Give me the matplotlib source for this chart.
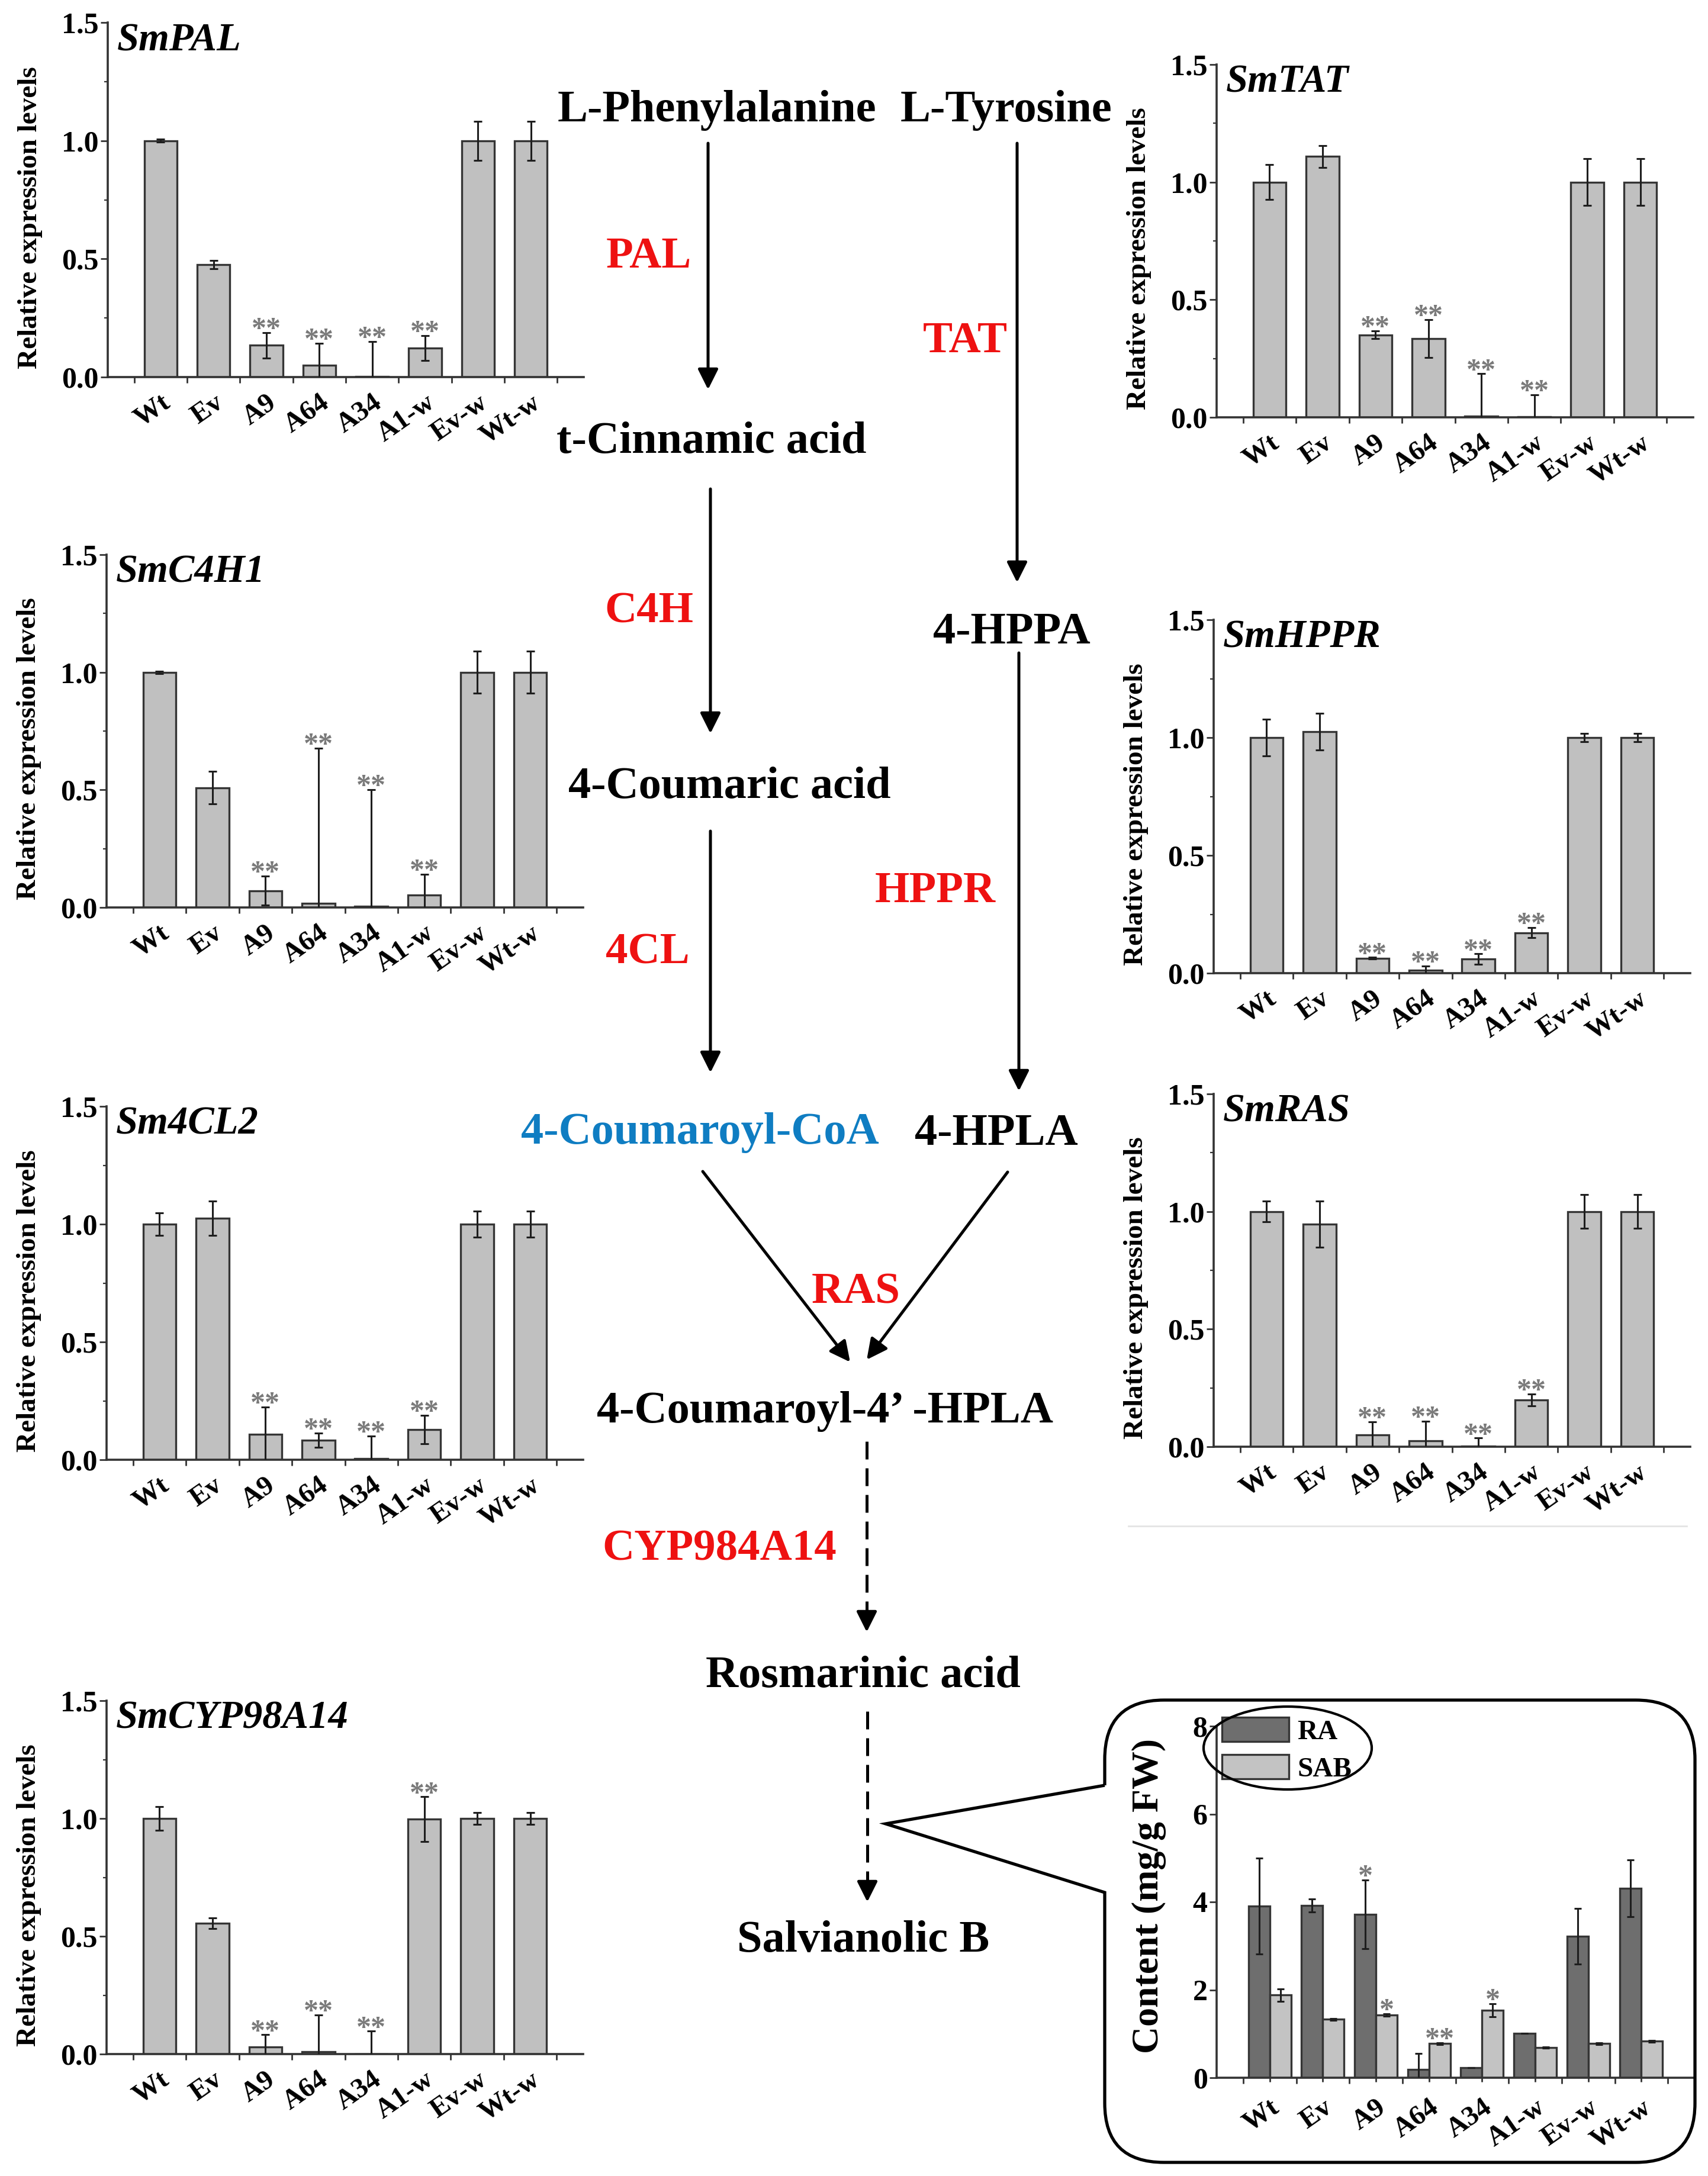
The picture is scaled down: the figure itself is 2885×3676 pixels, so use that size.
import matplotlib
matplotlib.use("Agg")
import matplotlib.pyplot as plt
import numpy as np
from matplotlib.path import Path
from matplotlib.patches import PathPatch, Ellipse

# ---- data ----
genotypes = ['Wt', 'Ev', 'A9', 'A64', 'A34', 'A1-w', 'Ev-w', 'Wt-w']

pal_mean = [1.0, 0.476, 0.134, 0.051, 0.003, 0.122, 1.0, 1.0]
pal_err = [0.006, 0.018, 0.055, 0.092, 0.148, 0.053, 0.083, 0.083]

c4h_mean = [1.0, 0.509, 0.071, 0.018, 0.006, 0.052, 1.0, 1.0]
c4h_err = [0.005, 0.069, 0.062, 0.66, 0.495, 0.089, 0.089, 0.089]

cl_mean = [1.0, 1.025, 0.109, 0.084, 0.006, 0.129, 1.0, 1.0]
cl_err = [0.047, 0.072, 0.115, 0.03, 0.095, 0.06, 0.056, 0.056]

cyp_mean = [1.0, 0.555, 0.031, 0.011, 0.001, 0.997, 1.0, 1.0]
cyp_err = [0.051, 0.023, 0.051, 0.155, 0.096, 0.095, 0.025, 0.025]

tat_mean = [1.0, 1.109, 0.351, 0.335, 0.005, 0.003, 1.0, 1.0]
tat_err = [0.075, 0.046, 0.017, 0.08, 0.18, 0.093, 0.099, 0.099]

hppr_mean = [1.0, 1.025, 0.064, 0.013, 0.060, 0.172, 1.0, 1.0]
hppr_err = [0.077, 0.077, 0.003, 0.017, 0.022, 0.022, 0.018, 0.018]

ras_mean = [1.0, 0.946, 0.051, 0.026, 0.002, 0.199, 1.0, 1.0]
ras_err = [0.044, 0.098, 0.055, 0.082, 0.035, 0.026, 0.071, 0.071]

expr_marks = ['', '', '**', '**', '**', '**', '', '']

ra_content = [3.90, 3.92, 3.72, 0.19, 0.23, 1.01, 3.22, 4.31]
ra_err = [1.09, 0.15, 0.78, 0.36, 0.0, 0.0, 0.63, 0.64]
sab_content = [1.88, 1.33, 1.43, 0.78, 1.54, 0.69, 0.78, 0.83]
sab_err = [0.14, 0.02, 0.03, 0.02, 0.15, 0.01, 0.02, 0.02]
ra_marks = ['', '', '*', '', '', '', '', '']
sab_marks = ['', '', '*', '**', '*', '', '', '']

# ---- style ----
W, H = 2885, 3676
DPI = 100
plt.rcParams['font.family'] = ['Liberation Serif', 'DejaVu Serif']
plt.rcParams['font.weight'] = 'bold'

BAR_FILL = '#c0c0c0'
BAR_EDGE = '#353535'
AX_COL = '#333333'
STAR_COL = '#7a7a7a'
RED = '#ee1111'
BLUE = '#0f7dc2'

fig = plt.figure(figsize=(W / DPI, H / DPI), dpi=DPI)


def px_axes(left, top, right, bottom):
    return fig.add_axes([left / W, 1 - bottom / H, (right - left) / W, (bottom - top) / H])


def style_axes(ax, ylab, ylab_size, ylab_pos, tick_size, xtick_size):
    for s in ['top', 'right']:
        ax.spines[s].set_visible(False)
    for s in ['left', 'bottom']:
        ax.spines[s].set_linewidth(2.6)
        ax.spines[s].set_color(AX_COL)
    ax.set_xlim(0, 9)
    x = np.arange(1, len(genotypes) + 1)
    ax.set_xticks(x, genotypes)
    ax.set_xticks(np.arange(0.5, 9, 1.0), minor=True)
    for lbl in ax.get_xticklabels():
        lbl.set_rotation(35)
        lbl.set_ha('right')
        lbl.set_rotation_mode('anchor')
    ax.tick_params(axis='x', which='major', length=0, pad=16, labelsize=xtick_size)
    ax.tick_params(axis='x', which='minor', length=7, width=2, color=AX_COL)
    ax.tick_params(axis='y', which='major', length=9, width=2, color=AX_COL,
                   labelsize=tick_size, pad=2)
    ax.tick_params(axis='y', which='minor', length=4, width=1.6, color=AX_COL)
    ax.set_ylabel(ylab, fontsize=ylab_size, fontweight='bold')
    ax.yaxis.set_label_coords(*ylab_pos)
    ax.patch.set_visible(False)


def expression_panel(rect, gene, means, errs, marks):
    ax = px_axes(*rect)
    x = np.arange(1, len(genotypes) + 1)
    ax.bar(x, means, width=0.62, color=BAR_FILL, edgecolor=BAR_EDGE, linewidth=2.4, zorder=2)
    ax.errorbar(x, means, yerr=errs, fmt='none', ecolor='#1e1e1e', elinewidth=2.2,
                capsize=5, capthick=2.2, zorder=3)
    for xi, m, e, s in zip(x, means, errs, marks):
        if s:
            ax.annotate(s, (xi, m + e), xytext=(0, -6), textcoords='offset points',
                        ha='center', va='baseline', fontsize=36, color=STAR_COL)
    ax.set_ylim(0, 1.5)
    ax.set_yticks([0, 0.5, 1.0, 1.5])
    ax.set_yticks([0.25, 0.75, 1.25], minor=True)
    ax.yaxis.set_major_formatter('{x:.1f}')
    style_axes(ax, 'Relative expression levels', 34, (-0.137, 0.45), 36, 34)
    ax.text(0.02, 1.0, gene, transform=ax.transAxes, ha='left', va='top',
            fontsize=48, fontstyle='italic', fontweight='bold')
    return ax


expression_panel((182, 38, 986, 637), 'SmPAL', pal_mean, pal_err, expr_marks)
expression_panel((180, 937, 985, 1533), 'SmC4H1', c4h_mean, c4h_err, expr_marks)
expression_panel((180, 1869, 985, 2466), 'Sm4CL2', cl_mean, cl_err, expr_marks)
expression_panel((180, 2873, 985, 3470), 'SmCYP98A14', cyp_mean, cyp_err, expr_marks)
expression_panel((2055, 109, 2860, 705), 'SmTAT', tat_mean, tat_err, expr_marks)
expression_panel((2050, 1047, 2855, 1644), 'SmHPPR', hppr_mean, hppr_err, expr_marks)
expression_panel((2050, 1848, 2855, 2444), 'SmRAS', ras_mean, ras_err, expr_marks)

# ---- RA / SAB content panel ----
axc = px_axes(2055, 2916, 2862, 3510)
xg = np.arange(1, len(genotypes) + 1)
axc.bar(xg - 0.2, ra_content, 0.4, color='#6e6e6e', edgecolor=BAR_EDGE, linewidth=2.4,
        label='RA', zorder=2)
axc.bar(xg + 0.2, sab_content, 0.4, color='#c3c3c3', edgecolor=BAR_EDGE, linewidth=2.4,
        label='SAB', zorder=2)
axc.errorbar(xg - 0.2, ra_content, yerr=ra_err, fmt='none', ecolor='#1e1e1e',
             elinewidth=2.2, capsize=4, capthick=2.2, zorder=3)
axc.errorbar(xg + 0.2, sab_content, yerr=sab_err, fmt='none', ecolor='#1e1e1e',
             elinewidth=2.2, capsize=4, capthick=2.2, zorder=3)
for off, vals, errs, marks in [(-0.2, ra_content, ra_err, ra_marks),
                               (0.2, sab_content, sab_err, sab_marks)]:
    for xi, m, e, s in zip(xg + off, vals, errs, marks):
        if s:
            axc.annotate(s, (xi, m + e), xytext=(0, -6), textcoords='offset points',
                         ha='center', va='baseline', fontsize=36, color=STAR_COL)
axc.set_ylim(0, 8)
axc.set_yticks([0, 2, 4, 6, 8])
style_axes(axc, 'Content (mg/g FW)', 46, (-0.105, 0.517), 36, 34)
axc.tick_params(axis='x', which='major', length=5, width=2, color=AX_COL)
axc.legend(loc='upper left', bbox_to_anchor=(0.011, 1.025), frameon=False, fontsize=34,
           handlelength=2.4, handleheight=0.95, handletextpad=0.3, labelspacing=0.35,
           borderpad=0, borderaxespad=0)

# ---- pathway overlay (pixel coordinates) ----
ov = fig.add_axes([0, 0, 1, 1], zorder=5)
ov.set_xlim(0, W)
ov.set_ylim(H, 0)
ov.axis('off')

FS = 55
compounds = [
    ('L-Phenylalanine', 1211, 205, 'black'),
    ('L-Tyrosine', 1700, 205, 'black'),
    ('t-Cinnamic acid', 1202, 765, 'black'),
    ('4-HPPA', 1709, 1087, 'black'),
    ('4-Coumaric acid', 1232, 1348, 'black'),
    ('4-Coumaroyl-CoA', 1182, 1932, BLUE),
    ('4-HPLA', 1683, 1934, 'black'),
    ('4-Coumaroyl-4\u2019 -HPLA', 1393, 2403, 'black'),
    ('Rosmarinic acid', 1458, 2850, 'black'),
    ('Salvianolic B', 1458, 3297, 'black'),
]
enzymes = [
    ('PAL', 1096, 452),
    ('TAT', 1630, 595),
    ('C4H', 1096, 1052),
    ('4CL', 1094, 1627),
    ('HPPR', 1580, 1524),
    ('RAS', 1446, 2202),
    ('CYP984A14', 1215, 2635),
]
for name, x, y, col in compounds:
    ov.text(x, y, name, ha='center', va='baseline', fontsize=FS, color=col, fontweight='bold')
for name, x, y in enzymes:
    ov.text(x, y, name, ha='center', va='baseline', fontsize=FS - 1, color=RED, fontweight='bold')

arrow_style = dict(arrowstyle='-|>,head_length=0.7,head_width=0.35', lw=3.6, color='black',
                   mutation_scale=30, shrinkA=0, shrinkB=0)
solid_arrows = [
    ((1196, 242), (1196, 658)),
    ((1200, 826), (1200, 1239)),
    ((1200, 1404), (1200, 1812)),
    ((1718, 242), (1718, 984)),
    ((1721, 1103), (1721, 1843)),
    ((1187, 1979), (1436, 2301)),
    ((1702, 1980), (1464, 2297)),
]
for start, end in solid_arrows:
    ov.annotate('', xy=end, xytext=start, arrowprops=arrow_style)

dashed_arrows = [
    ((1464, 2435), (1464, 2757)),
    ((1465, 2891), (1465, 3213)),
]
for (x0, y0), (x1, y1) in dashed_arrows:
    ov.plot([x0, x1], [y0, y1 - 25], color='black', lw=3.6, ls=(0, (6, 3)))
    ov.annotate('', xy=(x1, y1), xytext=(x1, y1 - 30), arrowprops=arrow_style)

# callout box around the content panel
L, T, R, B, r = 1866, 2872, 2863, 3653, 100
verts = [(L, 3016), (L, T + r), (L, T), (L + r, T), (R - r, T), (R, T), (R, T + r),
         (R, B - r), (R, B), (R - r, B), (L + r, B), (L, B), (L, B - r),
         (L, 3197), (1496, 3081), (L, 3016)]
codes = [Path.MOVETO, Path.LINETO, Path.CURVE3, Path.CURVE3, Path.LINETO, Path.CURVE3,
         Path.CURVE3, Path.LINETO, Path.CURVE3, Path.CURVE3, Path.LINETO, Path.CURVE3,
         Path.CURVE3, Path.LINETO, Path.LINETO, Path.LINETO]
ov.add_patch(PathPatch(Path(verts, codes), facecolor='none', edgecolor='black', lw=3.8,
                       joinstyle='miter'))
ov.add_patch(Ellipse((2175, 2953), 284, 140, facecolor='none', edgecolor='black', lw=3))

# faint separator under SmRAS
ov.plot([1906, 2849], [2578, 2578], color='#e4e4e4', lw=2)

fig.savefig('out.png', dpi=DPI)
